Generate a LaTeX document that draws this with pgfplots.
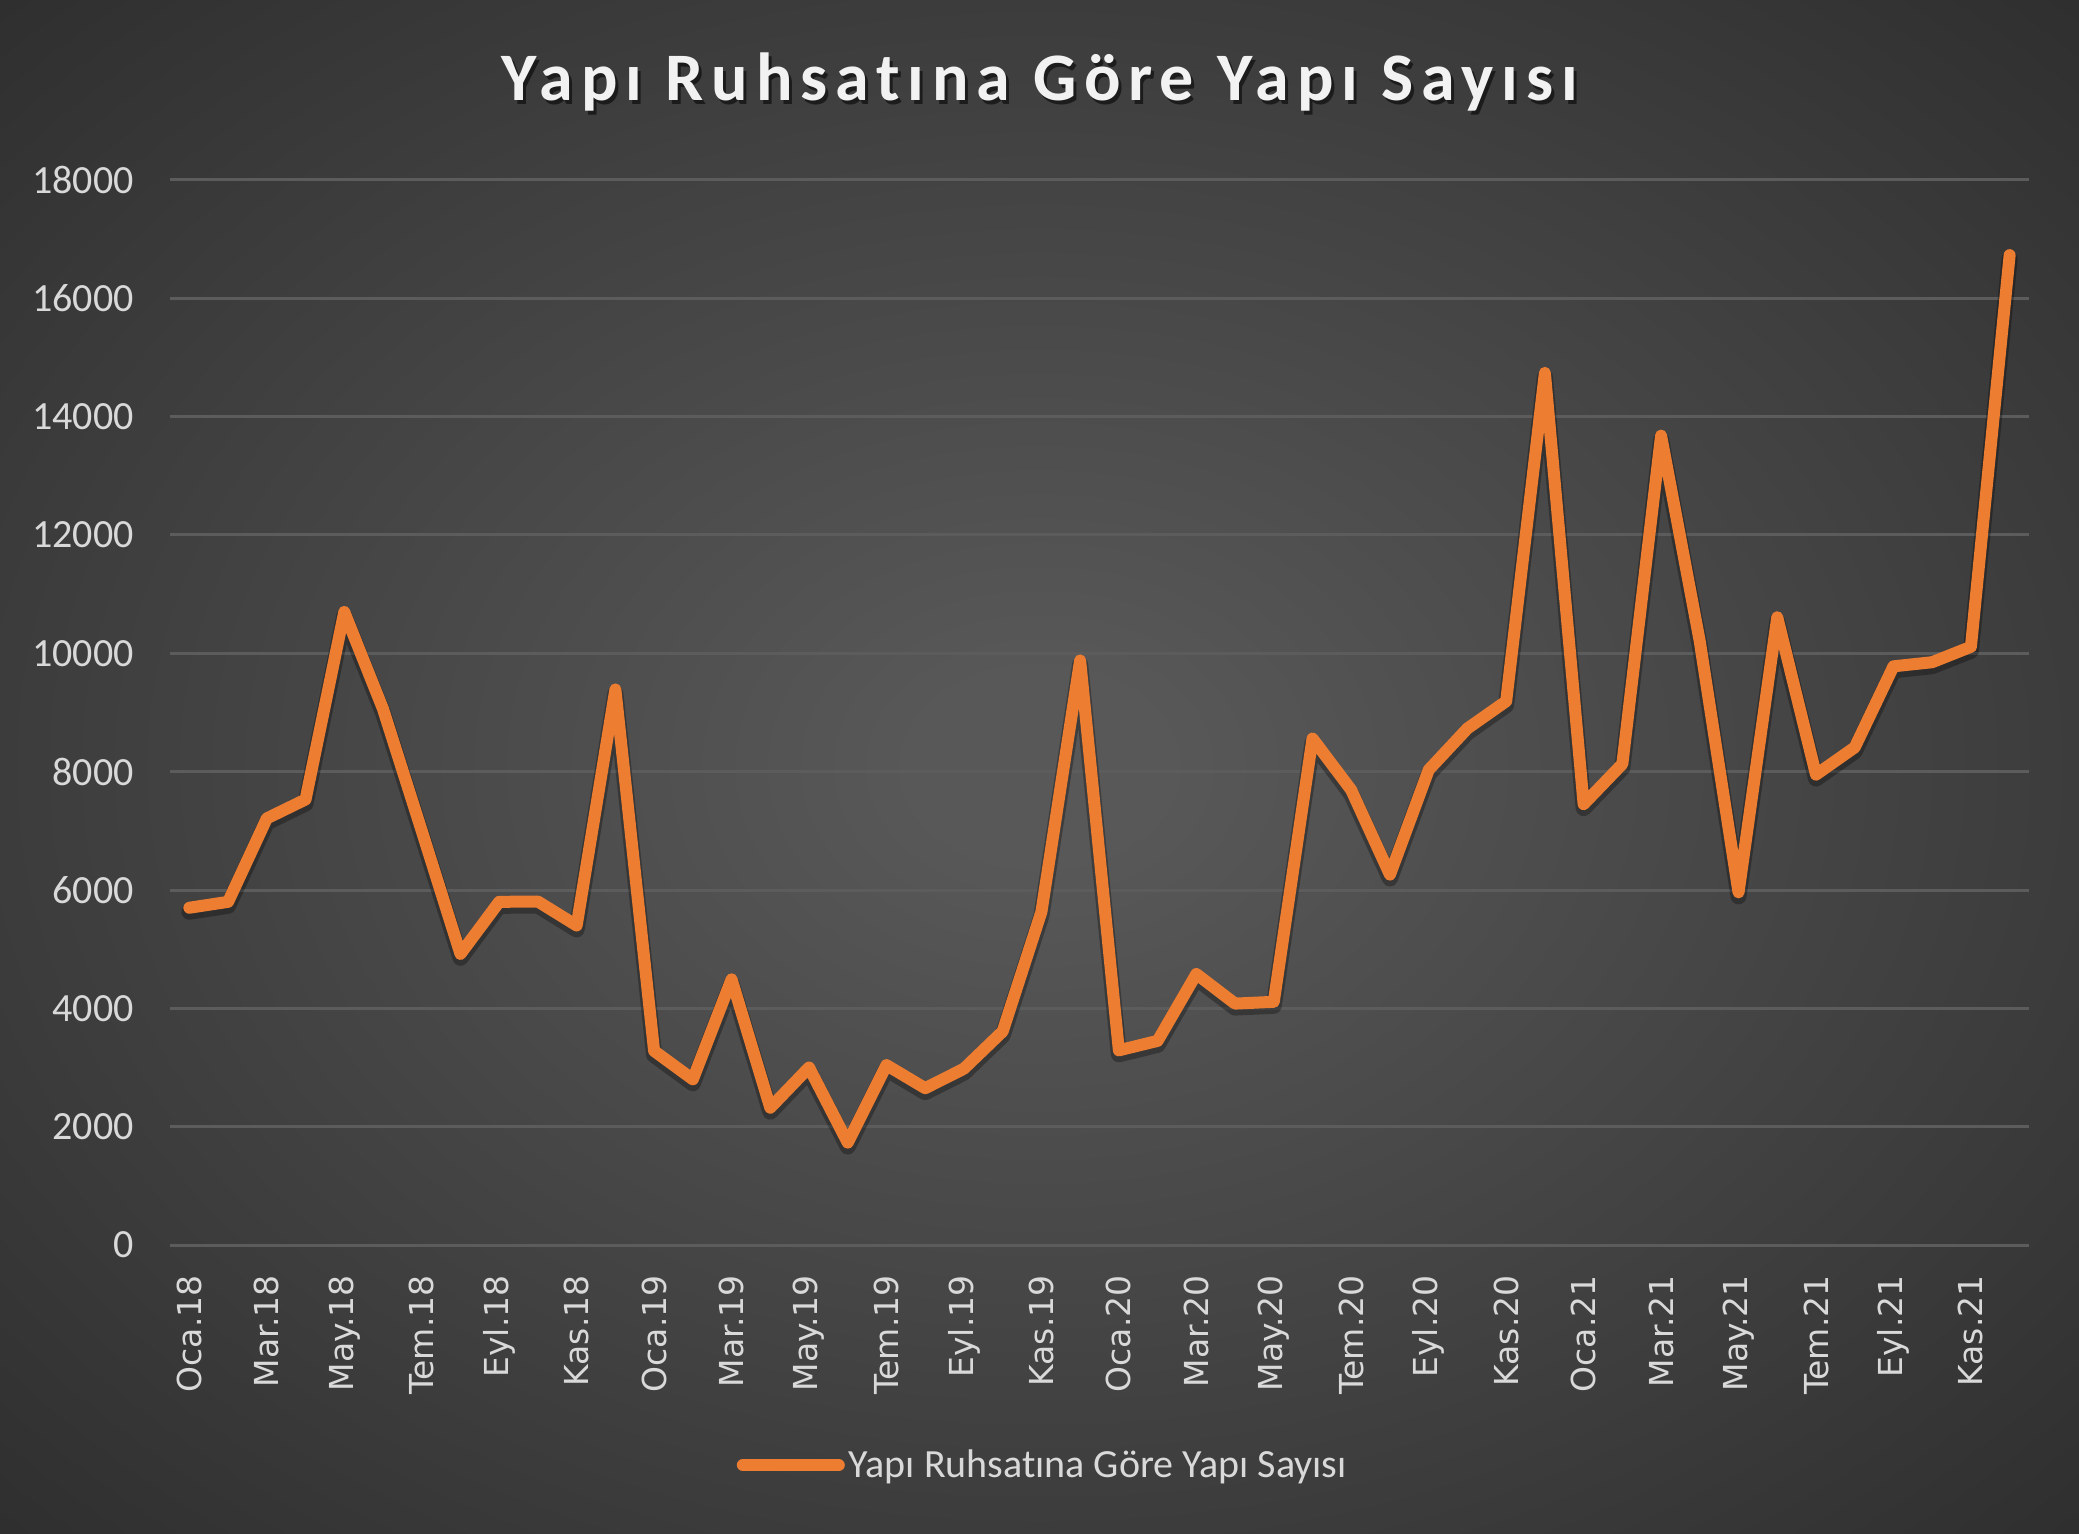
\documentclass[border=0pt]{standalone}
\usepackage{pgfplots}
\usepackage{pgfplotstable}
\pgfplotsset{compat=1.18}
\usepackage{fontspec}
\setmainfont[Ligatures=NoCommon]{Carlito}
\newfontfamily\dejavu{DejaVu Sans}
\newfontfamily\titlefont[LetterSpace=11.5, Ligatures=NoCommon]{Carlito}

\definecolor{lineor}{HTML}{ED7D31}
\definecolor{txt}{HTML}{D9D9D9}
\definecolor{gridc}{HTML}{5C5C5C}
\definecolor{bgin}{HTML}{585858}
\definecolor{bgmid}{HTML}{2E2E2E}
\definecolor{bgout}{HTML}{252525}
\pgfdeclareradialshading{bgshade}{\pgfpoint{0bp}{0bp}}{color(0bp)=(bgin); color(3bp)=(bgin); color(36bp)=(bgmid); color(60bp)=(bgout)}

\pgfplotstableread{
m v
0 5700
1 5800
2 7210
3 7530
4 10700
5 9060
6 7000
7 4920
8 5800
9 5805
10 5400
11 9390
12 3280
13 2800
14 4490
15 2320
16 3000
17 1730
18 3040
19 2650
20 2980
21 3610
22 5630
23 9880
24 3290
25 3450
26 4580
27 4080
28 4110
29 8560
30 7690
31 6260
32 8030
33 8730
34 9190
35 14740
36 7450
37 8130
38 13680
39 10200
40 5960
41 10610
42 7950
43 8410
44 9780
45 9850
46 10110
47 16730
}\datatable

\begin{document}
\begin{tikzpicture}
\shade[shading=bgshade] (0,0) rectangle (1039.5pt,766.5pt);
\begin{axis}[
  at={(85pt,144pt)}, anchor=south west,
  width=929.5pt, height=532.5pt, scale only axis,
  xmin=-0.5, xmax=47.5, ymin=0, ymax=18000,
  xtick={0,2,...,46},
  xticklabels={Oca.18,Mar.18,May.18,Tem.18,Eyl.18,Kas.18,
    Oca.19,Mar.19,May.19,Tem.19,Eyl.19,Kas.19,
    Oca.20,Mar.20,May.20,Tem.20,Eyl.20,Kas.20,
    Oca.21,Mar.21,May.21,Tem.21,Eyl.21,Kas.21},
  ytick={0,2000,...,18000},
  scaled y ticks=false,
  ymajorgrids, major grid style={gridc, line width=1.5pt},
  axis line style={draw=none},
  major tick length=0pt,
  /pgf/number format/assume math mode=true,
  /pgf/number format/1000 sep={},
  yticklabel style={font=\fontsize{20}{24}\selectfont, text=txt, inner sep=0pt},
  yticklabel shift=18pt,
  xticklabel style={font=\dejavu\fontsize{16.5}{19}\selectfont, text=txt, rotate=90, anchor=east, inner sep=0pt},
  xticklabel shift=15pt,
  clip=false,
  legend style={at={(0.4701,-0.2066)}, anchor=center, draw=none, fill=none,
    text=txt, font=\fontsize{20}{24}\selectfont, inner sep=0pt},
  legend image code/.code={\draw[#1, line cap=round] (0pt,0pt) -- (48pt,0pt);},
]
\addplot[black, opacity=0.3, line width=8pt, line join=round, line cap=round, yshift=-2pt, forget plot] table[x=m, y=v] {\datatable};
\addplot[lineor, line width=6pt, line join=round, line cap=round] table[x=m, y=v] {\datatable};
\addlegendentry{Yapı Ruhsatına Göre Yapı Sayısı}
\end{axis}
\node[text=black, opacity=0.55, font=\titlefont\bfseries\fontsize{34}{40}\selectfont] at (521.25pt,723.5pt) {Yapı Ruhsatına Göre Yapı Sayısı};
\node[text=white!95!black, font=\titlefont\bfseries\fontsize{34}{40}\selectfont] at (519.75pt,725.5pt) {Yapı Ruhsatına Göre Yapı Sayısı};
\end{tikzpicture}
\end{document}
